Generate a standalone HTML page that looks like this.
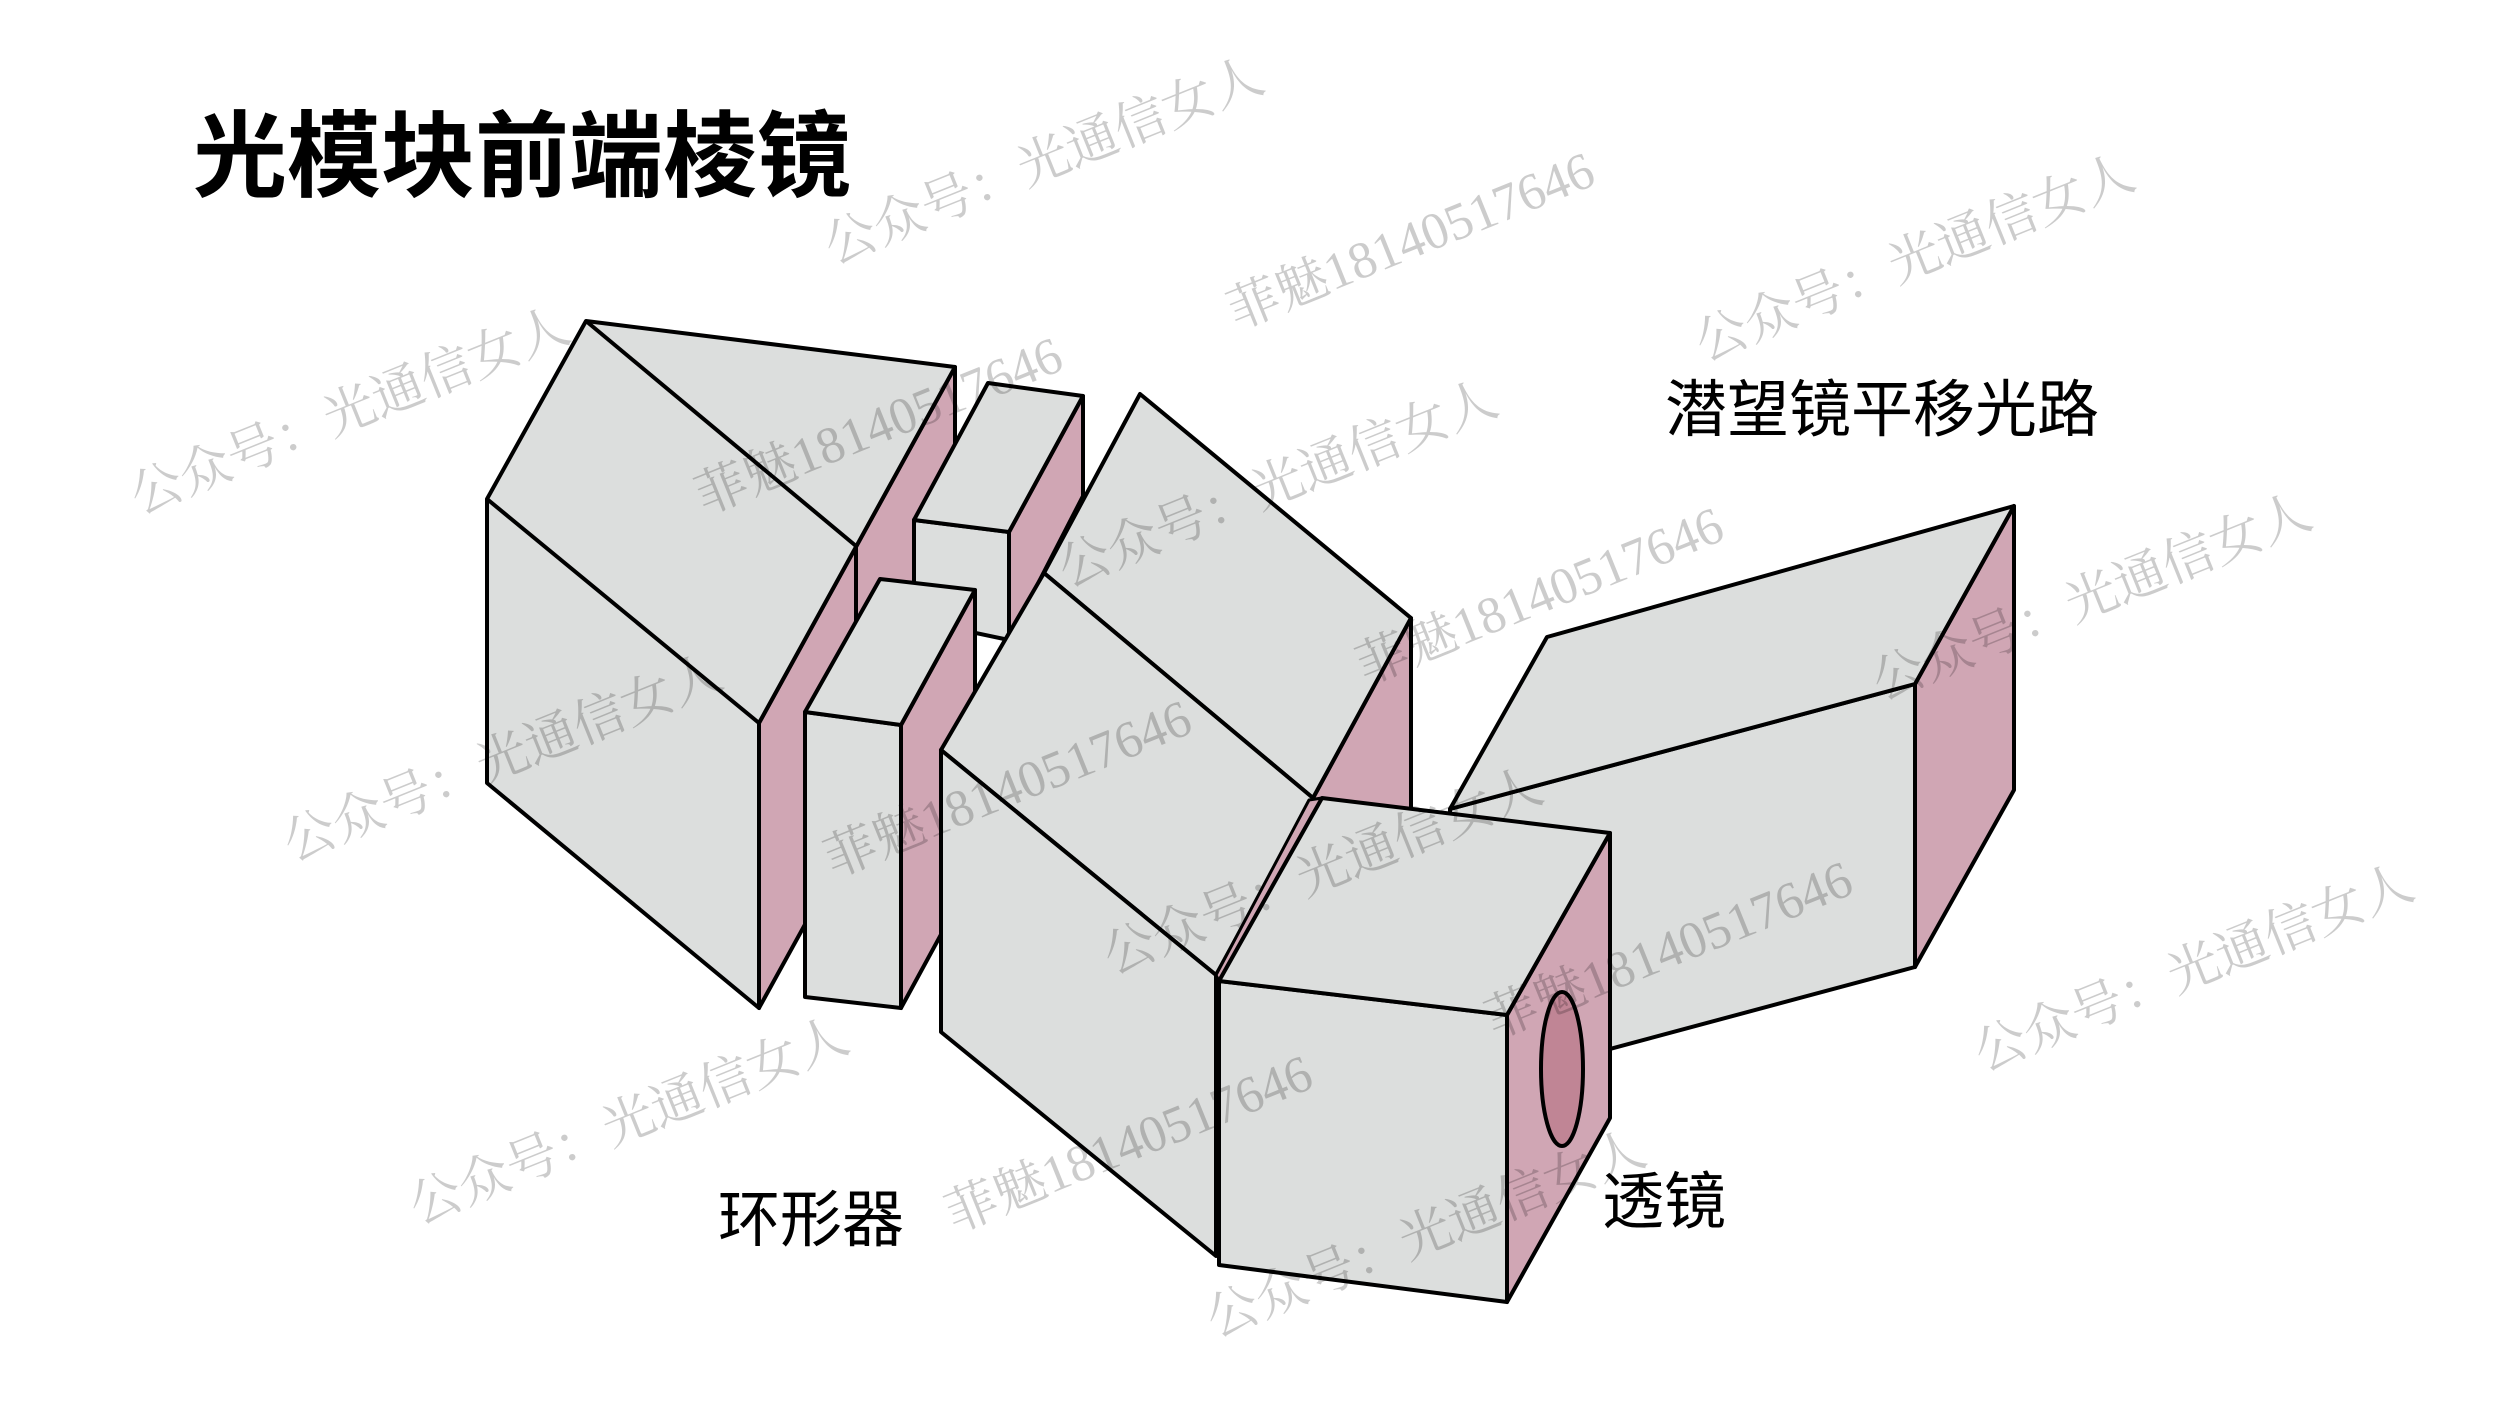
<!DOCTYPE html>
<html><head><meta charset="utf-8"><style>
html,body{margin:0;padding:0;background:#fff;}
body{width:2500px;height:1406px;position:relative;overflow:hidden;font-family:"Liberation Sans","Noto Sans CJK SC",sans-serif;}
svg{position:absolute;left:0;top:0;}
.t{position:absolute;color:#000;white-space:nowrap;line-height:1;}
.w{position:absolute;white-space:nowrap;font-family:"Liberation Serif","Noto Serif CJK SC",serif;font-size:52px;color:rgba(0,0,0,0.2);transform:rotate(-22deg);transform-origin:0 100%;line-height:1;}
</style></head><body>
<svg width="2500" height="1406" viewBox="0 0 2500 1406">
<g stroke="#000" stroke-width="4" stroke-linejoin="round" fill="#dcdedd">
<!-- block 6 periscope -->
<polygon points="2014,506 2014,790 1915,967 1915,684" fill="#d0a6b4"/>
<polygon points="1450,809 1915,684 1915,967 1450,1092"/>
<polygon points="1547,637 2014,506 1915,684 1450,809"/>
<!-- left prism -->
<polygon points="759,723 955,367 955,652 759,1008" fill="#d0a6b4"/>
<line x1="856" y1="546" x2="856" y2="622"/>
<polygon points="586,321 955,367 759,723 759,1008 487,783 487,499"/>
<line x1="586" y1="321" x2="856" y2="546"/>
<line x1="487" y1="499" x2="759" y2="723"/>
<!-- block 2 -->
<polygon points="1009,532 1083,396 1083,496 1009,640" fill="#d0a6b4"/>
<polygon points="914,520 1009,532 1009,640 914,620"/>
<polygon points="988,383 1083,396 1009,532 914,520"/>
<!-- block 3 -->
<polygon points="901,725 975,590 975,872 901,1008" fill="#d0a6b4"/>
<polygon points="805,712 901,725 901,1008 805,997"/>
<polygon points="880,579 975,590 901,725 805,712"/>
<!-- block 4 -->
<polygon points="1313,798 1411,618 1411,900 1313,1080" fill="#d0a6b4"/>
<polygon points="1140,394 1411,618 1313,798 1044,573"/>
<polygon points="1044,573 1313,798 1216,975 941,750"/>
<polygon points="941,750 1216,975 1216,1256 941,1032"/>
<!-- block 5 cube -->
<polygon points="1216,975 1309,800 1322,798 1219,981" fill="#d0a6b4" stroke-width="3"/>
<polygon points="1610,833 1610,1118 1507,1302 1507,1015" fill="#d0a6b4"/>
<ellipse cx="1562" cy="1069" rx="21" ry="77" fill="#c08595"/>
<polygon points="1219,981 1507,1015 1507,1302 1219,1265"/>
<polygon points="1322,798 1610,833 1507,1015 1219,981"/>
</g>
</svg>
<div class="t" style="left:193px;top:110px;font-size:94px;font-weight:bold;">光模块前端棱镜</div>
<div class="t" style="left:1665px;top:380px;font-size:62px;">潜望镜平移光路</div>
<div class="t" style="left:1602px;top:1172px;font-size:62px;">透镜</div>
<div class="t" style="left:718px;top:1190px;font-size:62px;">环形器</div>
<div class="w" style="left:143px;top:472px;">公众号：光通信女人</div>
<div class="w" style="left:837px;top:222px;">公众号：光通信女人</div>
<div class="w" style="left:1240px;top:287px;">菲魅18140517646</div>
<div class="w" style="left:1708px;top:319px;">公众号：光通信女人</div>
<div class="w" style="left:708px;top:472px;">菲魅18140517646</div>
<div class="w" style="left:296px;top:819px;">公众号：光通信女人</div>
<div class="w" style="left:1071px;top:545px;">公众号：光通信女人</div>
<div class="w" style="left:1369px;top:642px;">菲魅18140517646</div>
<div class="w" style="left:1885px;top:658px;">公众号：光通信女人</div>
<div class="w" style="left:837px;top:835px;">菲魅18140517646</div>
<div class="w" style="left:1116px;top:932px;">公众号：光通信女人</div>
<div class="w" style="left:1498px;top:996px;">菲魅18140517646</div>
<div class="w" style="left:1987px;top:1029px;">公众号：光通信女人</div>
<div class="w" style="left:422px;top:1182px;">公众号：光通信女人</div>
<div class="w" style="left:958px;top:1190px;">菲魅18140517646</div>
<div class="w" style="left:1219px;top:1295px;">公众号：光通信女人</div>
</body></html>
